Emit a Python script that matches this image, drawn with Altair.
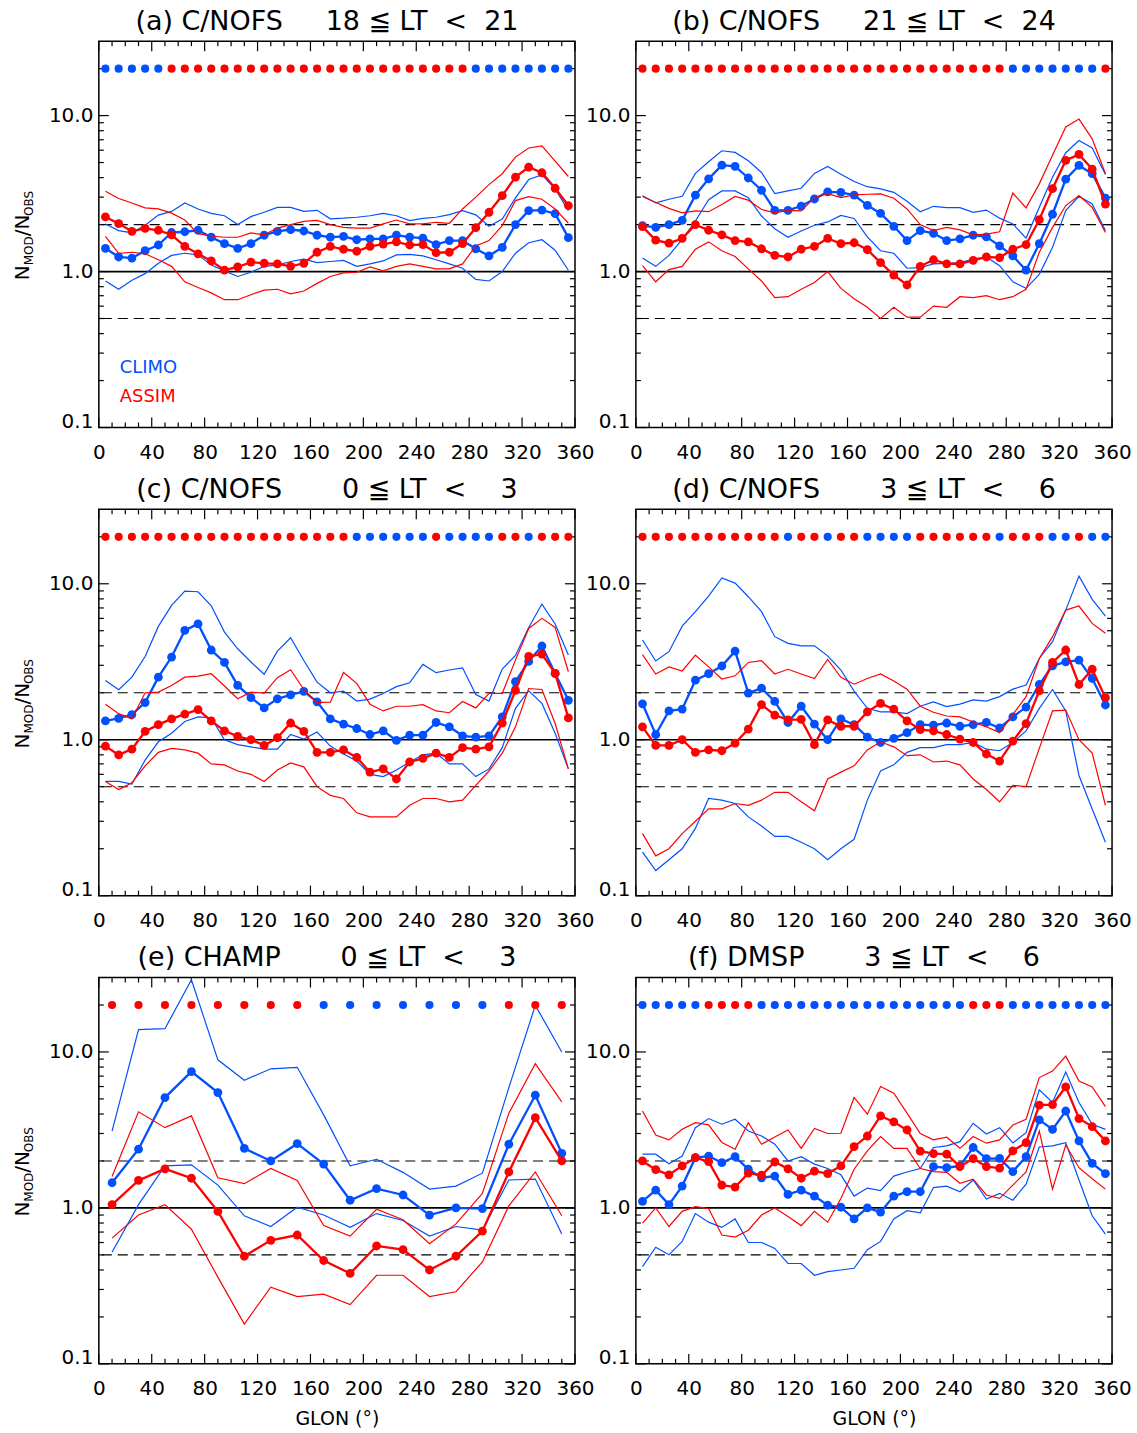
import altair as alt
import pandas as pd

# ---------------------------------------------------------------- data
LON_10 = list(range(5, 360, 10))    # 10-degree longitude bins
LON_20 = list(range(10, 360, 20))   # 20-degree longitude bins

# (a) C/NOFS 18 <= LT < 21
a_clim_med = [1.41, 1.24, 1.22, 1.36, 1.48, 1.78, 1.80, 1.84, 1.66, 1.51, 1.41, 1.51, 1.71, 1.81, 1.86, 1.82, 1.71, 1.66,
              1.68, 1.60, 1.62, 1.62, 1.71, 1.66, 1.64, 1.49, 1.58, 1.58, 1.40, 1.26, 1.43, 2.00, 2.46, 2.48, 2.35, 1.65]
a_clim_hi = [2.02, 1.83, 1.77, 1.98, 2.30, 2.43, 2.75, 2.52, 2.36, 2.28, 2.00, 2.25, 2.40, 2.58, 2.58, 2.43, 2.47, 2.18,
             2.20, 2.23, 2.28, 2.36, 2.28, 2.12, 2.19, 2.23, 2.32, 2.46, 2.31, 1.95, 2.17, 2.97, 3.89, 4.17, 3.39, 2.46]
a_clim_lo = [0.87, 0.77, 0.88, 0.97, 1.13, 1.27, 1.31, 1.28, 1.10, 1.01, 0.93, 0.99, 1.08, 1.10, 1.16, 1.20, 1.14, 1.16,
             1.18, 1.08, 1.12, 1.17, 1.28, 1.29, 1.26, 1.19, 1.12, 1.05, 0.89, 0.87, 1.00, 1.31, 1.53, 1.60, 1.37, 1.02]
a_asim_med = [2.24, 2.03, 1.81, 1.89, 1.84, 1.72, 1.45, 1.30, 1.17, 1.02, 1.07, 1.15, 1.13, 1.12, 1.08, 1.13, 1.33, 1.45,
              1.39, 1.35, 1.45, 1.50, 1.55, 1.48, 1.49, 1.32, 1.33, 1.51, 1.91, 2.40, 3.07, 4.03, 4.67, 4.30, 3.42, 2.65]
a_asim_hi = [3.27, 2.94, 2.75, 2.56, 2.52, 2.37, 2.14, 1.75, 1.69, 1.66, 1.66, 1.77, 1.72, 1.90, 2.00, 2.10, 2.13, 2.00,
             1.92, 1.90, 1.90, 2.02, 2.14, 2.02, 2.02, 2.07, 2.04, 2.52, 3.00, 3.61, 4.24, 5.42, 6.20, 6.40, 5.10, 4.07]
a_asim_lo = [1.68, 1.31, 1.33, 1.30, 1.19, 1.08, 0.86, 0.79, 0.73, 0.66, 0.66, 0.71, 0.76, 0.77, 0.72, 0.75, 0.84, 0.93,
             0.98, 0.99, 1.07, 1.01, 1.08, 1.12, 1.08, 1.04, 1.04, 1.12, 1.46, 1.58, 1.97, 2.85, 3.02, 2.91, 2.52, 2.04]
a_best = "CCCCC AAAAA AAAAA AAAAA AAAAA AAA CCCCC CCC"

# (b) C/NOFS 21 <= LT < 24
b_clim_med = [1.97, 1.92, 2.00, 2.13, 3.09, 3.93, 4.81, 4.72, 3.98, 3.32, 2.47, 2.47, 2.63, 2.92, 3.24, 3.22, 3.09, 2.66,
              2.36, 1.95, 1.58, 1.83, 1.76, 1.58, 1.62, 1.71, 1.67, 1.46, 1.26, 1.02, 1.51, 2.33, 3.91, 4.79, 4.24, 2.96]
b_clim_hi = [3.06, 2.76, 2.91, 3.04, 4.26, 5.06, 5.95, 5.81, 5.13, 4.32, 3.16, 3.29, 3.42, 4.26, 4.72, 4.21, 3.78, 3.50,
             3.39, 3.22, 2.82, 2.42, 2.62, 2.57, 2.57, 2.40, 2.48, 2.20, 2.02, 1.64, 2.58, 4.03, 5.78, 6.93, 6.20, 4.19]
b_clim_lo = [1.22, 1.08, 1.27, 1.61, 2.11, 2.89, 3.29, 3.29, 2.98, 2.27, 1.88, 1.66, 1.82, 1.98, 2.08, 2.29, 2.19, 1.67,
             1.36, 1.31, 1.05, 1.06, 1.12, 1.13, 1.14, 1.20, 1.24, 1.09, 0.86, 0.78, 0.96, 1.43, 2.46, 3.04, 2.71, 1.83]
b_asim_med = [1.94, 1.59, 1.52, 1.63, 2.00, 1.84, 1.72, 1.58, 1.55, 1.40, 1.27, 1.24, 1.39, 1.45, 1.63, 1.51, 1.53, 1.38,
              1.14, 0.95, 0.82, 1.08, 1.19, 1.12, 1.12, 1.18, 1.24, 1.23, 1.39, 1.49, 2.15, 3.40, 5.16, 5.64, 4.54, 2.71]
b_asim_hi = [3.03, 2.77, 2.54, 2.38, 2.45, 2.42, 2.69, 3.03, 2.87, 2.50, 2.38, 2.47, 2.45, 2.98, 3.16, 2.98, 3.10, 3.13,
             3.15, 2.95, 2.52, 2.00, 1.83, 1.92, 1.85, 1.72, 1.74, 1.80, 3.19, 2.56, 3.65, 5.56, 8.45, 9.50, 7.10, 4.24]
b_asim_lo = [1.09, 0.86, 1.03, 1.08, 1.39, 1.55, 1.36, 1.25, 1.04, 0.87, 0.68, 0.69, 0.77, 0.85, 1.00, 0.78, 0.67, 0.59,
             0.50, 0.59, 0.51, 0.51, 0.60, 0.59, 0.69, 0.68, 0.70, 0.66, 0.69, 0.77, 1.33, 1.92, 2.65, 3.07, 2.58, 1.78]
b_best = "AAAAA AAAAA AAAAA AAAAA AAAAA AAA CCCCC CC A"

# (c) C/NOFS 0 <= LT < 3
c_clim_med = [1.32, 1.37, 1.45, 1.73, 2.52, 3.39, 5.02, 5.53, 3.76, 3.13, 2.23, 1.86, 1.60, 1.83, 1.94, 2.04, 1.75, 1.36,
              1.26, 1.18, 1.08, 1.14, 0.99, 1.07, 1.07, 1.29, 1.21, 1.06, 1.04, 1.06, 1.40, 2.36, 3.18, 3.99, 2.66, 1.79]
c_clim_hi = [2.40, 2.09, 2.52, 3.42, 5.33, 7.27, 8.97, 8.89, 7.22, 4.90, 3.83, 3.15, 2.63, 3.70, 4.51, 3.22, 2.34, 2.00,
             2.05, 1.77, 1.82, 1.98, 2.19, 2.32, 3.04, 2.69, 2.80, 2.89, 1.95, 1.77, 2.84, 3.47, 5.25, 7.41, 5.52, 3.49]
c_clim_lo = [0.54, 0.54, 0.52, 0.74, 0.97, 1.10, 1.31, 1.40, 1.38, 1.00, 0.93, 0.90, 0.87, 0.87, 1.08, 1.01, 1.12, 0.91,
             0.81, 0.73, 0.60, 0.58, 0.64, 0.72, 0.80, 0.82, 0.70, 0.70, 0.58, 0.65, 0.89, 1.59, 2.06, 1.71, 1.10, 0.65]
c_asim_med = [0.91, 0.80, 0.87, 1.13, 1.25, 1.36, 1.46, 1.56, 1.32, 1.14, 1.05, 1.00, 0.92, 1.03, 1.28, 1.13, 0.83, 0.83,
              0.86, 0.77, 0.62, 0.65, 0.56, 0.72, 0.76, 0.82, 0.77, 0.89, 0.87, 0.90, 1.28, 2.07, 3.42, 3.54, 2.66, 1.38]
c_asim_hi = [1.69, 1.47, 1.36, 2.00, 2.02, 2.23, 2.52, 2.56, 2.65, 2.21, 1.83, 2.02, 1.99, 2.50, 2.81, 2.10, 1.73, 1.74,
             2.70, 2.30, 1.69, 1.53, 1.64, 1.64, 1.68, 1.53, 1.49, 1.76, 1.60, 1.98, 1.98, 3.24, 5.17, 6.00, 5.25, 2.73]
c_asim_lo = [0.54, 0.48, 0.53, 0.68, 0.83, 0.88, 0.86, 0.82, 0.70, 0.69, 0.63, 0.60, 0.54, 0.64, 0.71, 0.67, 0.50, 0.44,
             0.42, 0.34, 0.32, 0.32, 0.32, 0.38, 0.42, 0.42, 0.40, 0.41, 0.51, 0.63, 0.82, 1.21, 2.13, 2.10, 1.27, 0.65]
c_best = "AAAAA AAAAA AAAAA AAA A CCCCCC A CCCC AA C AAA"

# (d) C/NOFS 3 <= LT < 6
d_clim_med = [1.70, 1.08, 1.53, 1.57, 2.41, 2.65, 2.97, 3.70, 1.99, 2.14, 1.76, 1.29, 1.64, 1.26, 1.00, 1.36, 1.25, 1.04,
              0.96, 1.02, 1.11, 1.25, 1.24, 1.28, 1.22, 1.25, 1.29, 1.19, 1.40, 1.62, 2.26, 2.98, 3.16, 3.24, 2.47, 1.67]
d_clim_hi = [4.36, 3.20, 3.67, 5.35, 6.62, 8.33, 10.9, 10.1, 8.26, 6.62, 4.58, 4.15, 4.00, 4.00, 3.45, 2.80, 2.05, 1.59,
             1.51, 1.51, 1.47, 1.64, 1.75, 1.63, 1.69, 1.80, 1.77, 1.89, 2.11, 2.24, 3.32, 4.25, 6.78, 11.2, 7.94, 6.20]
d_clim_lo = [0.19, 0.145, 0.17, 0.20, 0.27, 0.42, 0.41, 0.39, 0.32, 0.28, 0.24, 0.24, 0.22, 0.20, 0.17, 0.20, 0.23, 0.41,
             0.63, 0.69, 0.83, 0.89, 0.89, 0.93, 0.93, 0.96, 0.87, 0.85, 0.96, 1.14, 1.59, 2.10, 1.53, 0.59, 0.36, 0.22]
d_asim_med = [1.21, 0.92, 0.92, 1.00, 0.83, 0.86, 0.85, 0.95, 1.17, 1.68, 1.44, 1.34, 1.35, 0.93, 1.34, 1.22, 1.22, 1.51,
              1.71, 1.57, 1.32, 1.16, 1.14, 1.08, 1.01, 0.96, 0.81, 0.73, 0.98, 1.27, 2.06, 3.13, 3.76, 2.26, 2.83, 1.86]
d_asim_hi = [3.51, 2.64, 2.93, 2.76, 3.49, 2.93, 2.45, 2.57, 3.13, 3.21, 2.64, 2.83, 2.64, 2.47, 3.27, 2.51, 2.27, 2.47,
             2.64, 2.38, 2.11, 1.64, 1.50, 1.42, 1.40, 1.30, 1.21, 1.11, 1.45, 1.89, 3.32, 4.58, 6.78, 7.20, 5.57, 4.81]
d_asim_lo = [0.25, 0.18, 0.20, 0.25, 0.30, 0.36, 0.36, 0.39, 0.38, 0.41, 0.46, 0.46, 0.40, 0.35, 0.56, 0.62, 0.68, 0.86,
             0.97, 0.90, 0.79, 0.80, 0.72, 0.73, 0.69, 0.56, 0.48, 0.40, 0.51, 0.50, 0.88, 1.53, 1.55, 1.00, 0.82, 0.38]
d_best = "AAAAA AAAAA A C AA C AA C CCC AAAAAA C AAA CC A CC"

# (e) CHAMP 0 <= LT < 3
e_clim_med = [1.45, 2.38, 5.10, 7.48, 5.49, 2.41, 2.00, 2.58, 1.91, 1.12, 1.33, 1.21, 0.90, 1.00, 0.99, 2.56, 5.28, 2.24]
e_clim_hi = [3.11, 13.9, 14.1, 29.0, 8.90, 6.58, 7.80, 7.97, 3.95, 1.86, 2.05, 1.69, 1.32, 1.38, 1.67, 5.90, 19.9, 10.0]
e_clim_lo = [0.52, 1.05, 1.86, 1.89, 1.40, 0.89, 0.76, 1.01, 0.90, 0.75, 0.92, 0.83, 0.66, 0.76, 0.72, 1.51, 1.53, 0.68]
e_asim_med = [1.05, 1.50, 1.78, 1.55, 0.95, 0.49, 0.62, 0.67, 0.46, 0.38, 0.57, 0.54, 0.40, 0.49, 0.71, 1.70, 3.79, 2.00]
e_asim_hi = [1.59, 4.13, 3.27, 3.89, 1.56, 1.43, 1.79, 1.50, 0.77, 0.66, 0.98, 0.84, 0.59, 0.79, 1.24, 4.05, 8.40, 4.78]
e_asim_lo = [0.64, 0.90, 1.05, 0.73, 0.36, 0.18, 0.31, 0.27, 0.28, 0.24, 0.37, 0.37, 0.27, 0.29, 0.45, 1.03, 1.70, 0.89]
e_best = "AAAAA AAA C CCCCCC AAA"

# (f) DMSP 3 <= LT < 6
f_clim_med = [1.10, 1.30, 1.05, 1.38, 2.10, 2.15, 1.95, 2.13, 1.77, 1.56, 1.60, 1.22, 1.30, 1.19, 1.04, 1.01, 0.85, 1.00,
              0.94, 1.19, 1.27, 1.27, 1.84, 1.81, 1.86, 2.44, 2.07, 2.08, 1.71, 2.13, 3.67, 3.19, 4.18, 2.69, 1.93, 1.66]
f_clim_hi = [2.21, 2.21, 1.92, 2.15, 3.27, 3.74, 3.44, 3.70, 3.11, 2.89, 2.56, 2.00, 2.13, 1.91, 1.79, 1.63, 1.19, 1.34,
             1.29, 1.60, 1.70, 1.79, 2.44, 2.50, 2.66, 3.49, 2.98, 3.27, 2.61, 3.04, 5.71, 4.74, 7.45, 4.74, 3.44, 3.19]
f_clim_lo = [0.42, 0.56, 0.50, 0.61, 0.92, 0.81, 0.75, 0.85, 0.60, 0.60, 0.55, 0.44, 0.44, 0.37, 0.39, 0.40, 0.41, 0.54,
             0.61, 0.85, 0.96, 0.93, 1.35, 1.38, 1.27, 1.51, 1.14, 1.24, 1.12, 1.42, 2.46, 2.50, 2.62, 1.51, 0.89, 0.68]
f_asim_med = [2.00, 1.76, 1.63, 1.86, 2.10, 1.98, 1.40, 1.36, 1.67, 1.62, 1.97, 1.78, 1.55, 1.72, 1.66, 1.86, 2.47, 2.89,
              3.89, 3.56, 3.16, 2.31, 2.23, 2.21, 1.84, 2.07, 1.84, 1.80, 2.32, 2.62, 4.56, 4.60, 5.97, 3.74, 3.32, 2.69]
f_asim_hi = [4.18, 2.93, 2.73, 3.19, 3.52, 3.41, 2.63, 2.38, 3.52, 2.56, 2.85, 3.16, 2.41, 3.23, 3.00, 3.01, 5.11, 3.99,
             6.00, 5.44, 4.05, 3.00, 2.73, 2.84, 2.41, 2.87, 2.60, 2.73, 3.40, 3.70, 6.85, 7.54, 9.40, 6.50, 5.96, 4.46]
f_asim_lo = [0.80, 1.00, 0.76, 0.95, 1.02, 0.99, 0.67, 0.65, 0.72, 0.90, 1.00, 0.88, 0.77, 0.95, 0.81, 1.15, 1.77, 2.32,
             2.87, 2.41, 2.41, 1.79, 1.71, 1.69, 1.44, 1.53, 1.21, 1.15, 1.40, 1.70, 3.11, 1.32, 2.53, 1.81, 1.54, 1.32]
f_best = "CCCCC AAAA CCCCC CCCC CCCCC CC AAA CCCCC CCC"

# axis ticks
X_LABELS = [0, 40, 80, 120, 160, 200, 240, 280, 320, 360]
X_MINOR = [10, 20, 30, 50, 60, 70, 90, 100, 110, 130, 140, 150, 170, 180, 190, 210, 220, 230,
           250, 260, 270, 290, 300, 310, 330, 340, 350]
Y_LABELS = [0.1, 1.0, 10.0]
Y_MINOR = [0.2, 0.3, 0.4, 0.5, 0.6, 0.7, 0.8, 0.9, 2, 3, 4, 5, 6, 7, 8, 9, 20]
REF_DASHED = [0.5, 2.0]
REF_SOLID = [1.0]
FLAG_LEVEL = 20.0

# ---------------------------------------------------------------- style
FONT = "DejaVu Sans"
BLUE = "#0050ff"
RED = "#ff0000"
W, H = 477, 387
NB = "\u00a0"

x_scale = alt.Scale(domain=[0, 360], nice=False, zero=False)
y_scale = alt.Scale(type="log", domain=[0.1, 30], nice=False)


def X(axis=None):
    # layers without an explicit axis leave it unset so the shared axis is kept
    if axis is None:
        return alt.X("lon:Q", scale=x_scale)
    return alt.X("lon:Q", scale=x_scale, axis=axis)


def Y(axis=None):
    if axis is None:
        return alt.Y("val:Q", scale=y_scale)
    return alt.Y("val:Q", scale=y_scale, axis=axis)


def model_layers(df, model, colour):
    sub = df[df["model"] == model]
    thin = alt.Chart(sub[sub["stat"] != "med"]).mark_line(
        strokeWidth=1.2, clip=True, color=colour
    ).encode(x=X(), y=Y(), detail="stat:N")
    med = sub[sub["stat"] == "med"]
    line = alt.Chart(med).mark_line(strokeWidth=2.3, clip=True, color=colour).encode(x=X(), y=Y())
    pts = alt.Chart(med).mark_circle(size=78, opacity=1, color=colour).encode(x=X(), y=Y())
    return [thin, line, pts]


def tick_layers(bottom_row):
    # axes carry the labels only; tick marks are drawn inward as short rules on all four sides
    xa = dict(values=X_LABELS, ticks=False, domain=False, grid=False, labelPadding=15,
              labelFlush=False, labelOverlap=False, labelFontSize=20)
    if bottom_row:
        xa.update(title="GLON (°)", titlePadding=11, titleFontSize=19)
    else:
        xa.update(title=None)
    ya = dict(values=Y_LABELS, format=".1f", ticks=False, domain=False, grid=False,
              labelPadding=6, labelOverlap=False, labelFontSize=20, title=None,
              labelBaseline={"condition": {"test": "datum.value < 0.5", "value": "alphabetic"},
                             "value": "middle"})
    out = []
    for vals, ln, with_axis in ((Y_LABELS, 10, True), (Y_MINOR, 5, False)):
        d = pd.DataFrame({"val": vals})
        out.append(alt.Chart(d).mark_rule(color="black", strokeWidth=1.2).encode(
            y=Y(alt.Axis(**ya) if with_axis else None), x=alt.value(0), x2=alt.value(ln)))
        out.append(alt.Chart(d).mark_rule(color="black", strokeWidth=1.2).encode(
            y=Y(), x=alt.value(W - ln), x2=alt.value(W)))
    for vals, ln, with_axis in ((X_LABELS, 10, True), (X_MINOR, 5, False)):
        d = pd.DataFrame({"lon": vals})
        out.append(alt.Chart(d).mark_rule(color="black", strokeWidth=1.2).encode(
            x=X(alt.Axis(**xa) if with_axis else None), y=alt.value(H), y2=alt.value(H - ln)))
        out.append(alt.Chart(d).mark_rule(color="black", strokeWidth=1.2).encode(
            x=X(), y=alt.value(0), y2=alt.value(ln)))
    return out


def text_piece(txt, size, xpos, ypos, colour="black", angle=None):
    kw = dict(align="left", baseline="alphabetic", fontSize=size, font=FONT, color=colour)
    if angle is not None:
        kw["angle"] = angle
    return alt.Chart(pd.DataFrame({"t": [txt]})).mark_text(**kw).encode(
        text="t:N", x=alt.value(xpos), y=alt.value(ypos))


def y_title_layers():
    # N_MOD / N_OBS written bottom-to-top, subscripts shifted toward the axis
    base = H / 2 + 46
    return [
        text_piece("N", 20, -70, base, angle=270),
        text_piece("MOD", 12, -66, base - 15, angle=270),
        text_piece("/N", 20, -70, base - 15 - 29, angle=270),
        text_piece("OBS", 12, -66, base - 15 - 29 - 20.5, angle=270),
    ]


def panel(title, lon, clim, assim, best, left_col, bottom_row, legend=False):
    recs = []
    for model, stats in (("CLIMO", clim), ("ASSIM", assim)):
        for stat, vals in zip(("lo", "med", "hi"), stats):
            for x, v in zip(lon, vals):
                recs.append({"lon": x, "val": v, "model": model, "stat": stat})
    df = pd.DataFrame(recs)
    flags = pd.DataFrame({"lon": lon, "val": FLAG_LEVEL, "best": list("".join(best.split()))})

    layers = tick_layers(bottom_row)
    layers += [
        alt.Chart(pd.DataFrame({"val": REF_DASHED})).mark_rule(
            color="black", strokeWidth=1.1, strokeDash=[10, 6]).encode(y=Y()),
        alt.Chart(pd.DataFrame({"val": REF_SOLID})).mark_rule(
            color="black", strokeWidth=1.7).encode(y=Y()),
    ]
    layers += model_layers(df, "CLIMO", BLUE)
    layers += model_layers(df, "ASSIM", RED)
    layers.append(alt.Chart(flags).mark_circle(size=66, opacity=1).encode(
        x=X(), y=Y(),
        color=alt.Color("best:N", scale=alt.Scale(domain=["C", "A"], range=[BLUE, RED]), legend=None)))
    if left_col:
        layers += y_title_layers()
    if legend:
        layers.append(text_piece("CLIMO", 18, 21, 332, BLUE))
        layers.append(text_piece("ASSIM", 18, 21, 361, RED))
    return alt.layer(*layers).properties(
        width=W, height=H,
        title=alt.TitleParams(title, fontSize=27, font=FONT, fontWeight="normal",
                              frame="group", anchor="middle", offset=5, dx=-10, color="black"),
    )


def lt_title(tag, inst, lo, hi):
    lo_s = (NB * 2 + str(lo)) if lo < 10 else str(lo)
    hi_s = (NB * 2 + str(hi)) if hi < 10 else str(hi)
    return f"({tag}) {inst}{NB * 5}{lo_s}{NB}≦{NB}LT{NB * 2}<{NB * 2}{hi_s}"


charts = [
    panel(lt_title("a", "C/NOFS", 18, 21), LON_10,
          (a_clim_lo, a_clim_med, a_clim_hi), (a_asim_lo, a_asim_med, a_asim_hi), a_best, True, False, legend=True),
    panel(lt_title("b", "C/NOFS", 21, 24), LON_10,
          (b_clim_lo, b_clim_med, b_clim_hi), (b_asim_lo, b_asim_med, b_asim_hi), b_best, False, False),
    panel(lt_title("c", "C/NOFS", 0, 3), LON_10,
          (c_clim_lo, c_clim_med, c_clim_hi), (c_asim_lo, c_asim_med, c_asim_hi), c_best, True, False),
    panel(lt_title("d", "C/NOFS", 3, 6), LON_10,
          (d_clim_lo, d_clim_med, d_clim_hi), (d_asim_lo, d_asim_med, d_asim_hi), d_best, False, False),
    panel(lt_title("e", "CHAMP", 0, 3), LON_20,
          (e_clim_lo, e_clim_med, e_clim_hi), (e_asim_lo, e_asim_med, e_asim_hi), e_best, True, True),
    panel(lt_title("f", "DMSP", 3, 6), LON_10,
          (f_clim_lo, f_clim_med, f_clim_hi), (f_asim_lo, f_asim_med, f_asim_hi), f_best, False, True),
]

chart = alt.concat(
    *charts, columns=2, spacing={"row": 82, "column": 61}, bounds="flush"
).properties(
    padding={"left": 12, "top": 5, "right": 5, "bottom": 5},
    background="white",
).configure_view(
    stroke="black", strokeWidth=1.5
).configure_axis(
    labelFont=FONT, titleFont=FONT, labelColor="black", titleColor="black", titleFontWeight="normal"
)

chart.save("out.html", embed_options={"renderer": "svg", "actions": False})
